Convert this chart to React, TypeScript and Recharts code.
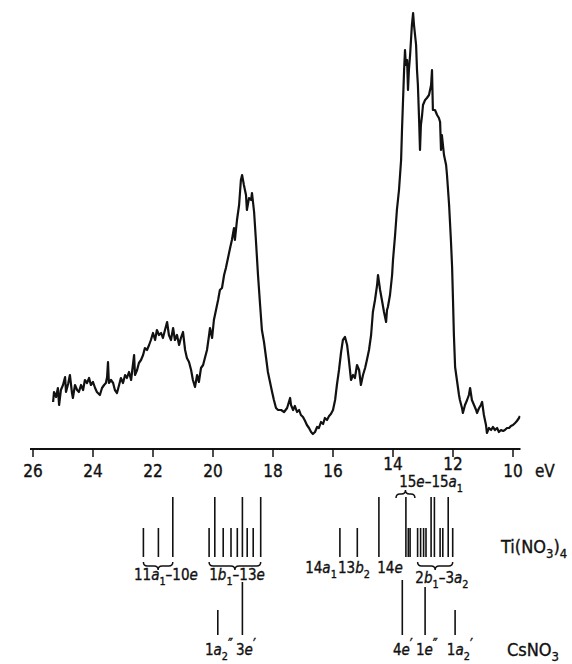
import { ComposedChart, Line, XAxis, YAxis, ReferenceLine, ReferenceDot } from 'recharts';

const FONT = '"DejaVu Sans Condensed", "DejaVu Sans", sans-serif';
const INK = '#111';

// photoelectron spectrum: [binding energy (eV), counts]
const spectrum: [number, number][] = [
  [25.33, 47], [25.3, 57], [25.23, 52], [25.17, 61], [25.13, 44], [25.07, 59], [25.0, 64], [24.93, 72],
  [24.9, 57], [24.83, 65], [24.77, 74], [24.7, 56], [24.67, 51], [24.6, 64], [24.53, 59], [24.47, 57],
  [24.4, 64], [24.33, 59], [24.27, 69], [24.2, 66], [24.13, 71], [24.07, 64], [24.0, 67], [23.93, 61],
  [23.87, 57], [23.77, 54], [23.7, 61], [23.63, 64], [23.57, 66], [23.53, 72], [23.5, 87], [23.47, 66],
  [23.4, 69], [23.33, 66], [23.27, 59], [23.2, 56], [23.13, 64], [23.07, 71], [23.0, 66], [22.93, 74],
  [22.87, 71], [22.8, 77], [22.73, 69], [22.67, 84], [22.63, 94], [22.6, 74], [22.53, 79], [22.47, 86],
  [22.4, 89], [22.33, 94], [22.27, 101], [22.2, 99], [22.13, 104], [22.07, 109], [22.0, 116], [21.93, 109],
  [21.87, 119], [21.8, 114], [21.73, 116], [21.67, 111], [21.6, 119], [21.53, 127], [21.47, 114], [21.4, 109],
  [21.33, 121], [21.27, 109], [21.2, 114], [21.13, 104], [21.07, 111], [21.0, 117], [20.93, 99], [20.87, 91],
  [20.8, 87], [20.73, 79], [20.67, 69], [20.6, 62], [20.53, 74], [20.47, 67], [20.4, 81], [20.33, 84],
  [20.27, 91], [20.2, 99], [20.13, 114], [20.1, 121], [20.03, 111], [19.97, 129], [19.9, 139], [19.83, 149],
  [19.77, 159], [19.7, 161], [19.63, 174], [19.57, 181], [19.5, 191], [19.43, 201], [19.37, 209], [19.3, 221],
  [19.27, 209], [19.2, 229], [19.13, 244], [19.07, 269], [19.03, 274], [18.97, 264], [18.9, 254], [18.87, 239],
  [18.8, 251], [18.73, 249], [18.7, 256], [18.63, 237], [18.57, 209], [18.5, 174], [18.43, 144], [18.37, 119],
  [18.3, 107], [18.23, 91], [18.17, 77], [18.1, 67], [18.03, 57], [17.97, 49], [17.9, 41], [17.83, 39],
  [17.73, 39], [17.63, 37], [17.53, 41], [17.43, 51], [17.4, 44], [17.33, 39], [17.27, 43], [17.2, 37],
  [17.13, 39], [17.07, 34], [17.0, 32], [16.93, 28], [16.87, 24], [16.8, 21], [16.73, 17], [16.67, 15],
  [16.6, 17], [16.53, 22], [16.47, 21], [16.4, 27], [16.33, 25], [16.27, 31], [16.2, 29], [16.13, 33],
  [16.07, 35], [16.0, 39], [15.93, 49], [15.87, 64], [15.8, 79], [15.73, 97], [15.67, 109], [15.6, 112],
  [15.53, 104], [15.47, 89], [15.4, 69], [15.33, 74], [15.27, 71], [15.2, 84], [15.13, 79], [15.07, 64],
  [15.0, 74], [14.93, 81], [14.87, 89], [14.8, 99], [14.73, 114], [14.67, 137], [14.6, 149], [14.53, 164],
  [14.5, 174], [14.43, 159], [14.37, 149], [14.3, 137], [14.23, 127], [14.2, 139], [14.17, 142], [14.1, 154],
  [14.03, 174], [14.0, 189], [13.93, 214], [13.87, 239], [13.8, 259], [13.73, 289], [13.7, 319], [13.63, 379],
  [13.6, 399], [13.57, 384], [13.53, 389], [13.5, 359], [13.47, 379], [13.43, 394], [13.4, 409], [13.37, 424],
  [13.33, 436], [13.3, 424], [13.23, 404], [13.2, 379], [13.17, 364], [13.13, 329], [13.1, 299], [13.07, 324],
  [13.03, 334], [13.0, 344], [12.93, 349], [12.87, 351], [12.8, 354], [12.73, 364], [12.7, 379], [12.67, 339],
  [12.6, 339], [12.53, 334], [12.47, 331], [12.43, 327], [12.4, 299], [12.37, 314], [12.3, 294], [12.23, 284],
  [12.2, 274], [12.13, 244], [12.07, 209], [12.03, 182], [12.0, 149], [11.97, 114], [11.93, 82], [11.87, 69],
  [11.8, 54], [11.77, 49], [11.7, 41], [11.67, 36], [11.6, 44], [11.53, 49], [11.47, 54], [11.43, 61],
  [11.37, 49], [11.3, 44], [11.23, 39], [11.2, 36], [11.13, 41], [11.07, 44], [11.03, 47], [10.97, 34],
  [10.9, 24], [10.87, 16], [10.8, 21], [10.73, 19], [10.67, 22], [10.6, 19], [10.53, 21], [10.47, 17],
  [10.4, 19], [10.33, 18], [10.27, 19], [10.2, 21], [10.13, 21], [10.07, 23], [10.0, 24], [9.93, 26],
  [9.87, 28], [9.8, 31], [9.77, 33],
];

const energyTicks = [26, 24, 22, 20, 18, 16, 14, 12, 10];
const raisedTicks = [14, 12];

// calculated Ti(NO3)4 levels (eV) and stick heights
const tiEnergy = [
  22.32, 21.82, 21.34, 20.13, 19.94, 19.66, 19.4, 19.19, 19.02, 18.86, 18.66, 18.41,
  15.77, 15.19, 14.47, 13.57, 13.49, 13.43, 13.18, 13.08, 12.98, 12.9, 12.73, 12.62, 12.43, 12.34, 12.16, 12.01,
];
const tiHeight = [
  29, 29, 60, 29, 60, 29, 29, 29, 60, 29, 29, 60,
  29, 29, 60, 60, 29, 29, 29, 29, 29, 29, 60, 60, 29, 29, 60, 29,
];

// CsNO3 levels (eV) and stick heights
const csEnergy = [19.84, 19.02, 13.69, 12.93, 11.93];
const csHeight = [25, 53, 55, 48, 25];

type Kind = 'n' | 'i' | 'b' | 'p';
type Seg = [string, Kind];

const tiBraces: { from: number; to: number; at: number; text: Seg[] }[] = [
  { from: 22.32, to: 21.34, at: 21.57, text: [['11', 'n'], ['a', 'i'], ['1', 'b'], ['–10', 'n'], ['e', 'i']] },
  { from: 20.13, to: 18.41, at: 19.2, text: [['1', 'n'], ['b', 'i'], ['1', 'b'], ['–13', 'n'], ['e', 'i']] },
  { from: 13.18, to: 12.01, at: 12.37, text: [['2', 'n'], ['b', 'i'], ['1', 'b'], ['–3', 'n'], ['a', 'i'], ['2', 'b']] },
];

const tiSingles: { at: number; text: Seg[] }[] = [
  { at: 16.4, text: [['14', 'n'], ['a', 'i'], ['1', 'b']] },
  { at: 15.3, text: [['13', 'n'], ['b', 'i'], ['2', 'b']] },
  { at: 14.1, text: [['14', 'n'], ['e', 'i']] },
];

const csLabels: { at: number; text: Seg[] }[] = [
  { at: 19.8, text: [['1', 'n'], ['a', 'i'], ['2', 'b'], ['″', 'p']] },
  { at: 18.9, text: [['3', 'n'], ['e', 'i'], ['′', 'p']] },
  { at: 13.67, text: [['4', 'n'], ['e', 'i'], ['′', 'p']] },
  { at: 12.87, text: [['1', 'n'], ['e', 'i'], ['″', 'p']] },
  { at: 11.77, text: [['1', 'n'], ['a', 'i'], ['2', 'b'], ['′', 'p']] },
];

const topLabel: Seg[] = [['15', 'n'], ['e', 'i'], ['–15', 'n'], ['a', 'i'], ['1', 'b']];
const tiName: Seg[] = [['Ti(NO', 'n'], ['3', 'b'], [')', 'n'], ['4', 'b']];
const csName: Seg[] = [['CsNO', 'n'], ['3', 'b']];

const DOMAIN: [number, number] = [9.75, 26.1];
const MARGIN = { top: 9, right: 51.5, bottom: 0, left: 30 };

function Rich({ x, y, segs, size, anchor = 'middle' }: { x: number; y: number; segs: Seg[]; size: number; anchor?: string }) {
  let shift = 0;
  return (
    <text x={x} y={y} textAnchor={anchor} fontSize={size} fontFamily={FONT} fill={INK} stroke={INK} strokeWidth={0.35}>
      {segs.map(([t, k], i) => {
        const target = k === 'b' ? size * 0.3 : k === 'p' ? -size * 0.35 : 0;
        const dy = target - shift;
        shift = target;
        return (
          <tspan key={i} dy={dy} fontStyle={k === 'i' ? 'italic' : undefined} fontSize={k === 'b' ? size * 0.72 : undefined}>
            {t}
          </tspan>
        );
      })}
    </text>
  );
}

const label = (segs: Seg[], size: number, anchor = 'middle') => (p: any) => (
  <Rich x={p.cx} y={p.cy} segs={segs} size={size} anchor={anchor} />
);

// curly brace along a horizontal segment; tip points down when `down`
const brace = (down: boolean) => (p: any) => {
  const a = Math.min(p.x1, p.x2);
  const b = Math.max(p.x1, p.x2);
  const m = (a + b) / 2;
  const y = p.y1;
  const s = down ? 1 : -1;
  const h = 4;
  const d = `M${a},${y - s * h} Q${a},${y} ${a + h},${y} L${m - h},${y} Q${m},${y} ${m},${y + s * h} Q${m},${y} ${m + h},${y} L${b - h},${y} Q${b},${y} ${b},${y - s * h}`;
  return <path d={d} fill="none" stroke={INK} strokeWidth={1.5} />;
};

const EnergyTick = ({ x, y, payload }: any) => (
  <text
    x={x}
    y={y}
    dy={raisedTicks.includes(payload.value) ? 11 : 18}
    textAnchor="middle"
    fontSize={17}
    fontFamily={FONT}
    fill={INK}
    stroke={INK}
    strokeWidth={0.35}
  >
    {payload.value}
  </text>
);

const stick = (base: number) => (e: number, h: number, i: number) => (
  <ReferenceLine
    key={`s-${base}-${i}`}
    segment={[{ x: e, y: base }, { x: e, y: base + h }]}
    stroke={INK}
    strokeWidth={1.6}
    ifOverflow="visible"
  />
);

export default function App() {
  const data = spectrum.map(([e, v]) => ({ e, v }));
  // lower panel: y value = distance above the bottom of the figure
  const TI_BASE = 107;
  const CS_BASE = 29;

  return (
    <div style={{ position: 'absolute', left: 0, top: 0, width: 572, height: 664, background: '#fff' }}>
      <ComposedChart width={572} height={489} data={data} margin={MARGIN}>
        <XAxis
          dataKey="e"
          type="number"
          domain={DOMAIN}
          reversed
          allowDataOverflow
          ticks={energyTicks}
          tickSize={8}
          height={40}
          tick={<EnergyTick />}
          axisLine={{ stroke: INK, strokeWidth: 1.8 }}
          tickLine={{ stroke: INK, strokeWidth: 1.5 }}
        />
        <YAxis hide domain={[0, 440]} allowDataOverflow />
        <Line
          dataKey="v"
          type="linear"
          stroke={INK}
          strokeWidth={2.2}
          strokeLinejoin="round"
          dot={false}
          isAnimationActive={false}
        />
        <ReferenceDot x={9.27} y={0} r={0} ifOverflow="visible" shape={(p: any) => (
          <text x={p.cx} y={p.cy + 28} fontSize={17} fontFamily={FONT} fill={INK} stroke={INK} strokeWidth={0.35}>eV</text>
        )} />
      </ComposedChart>

      <div style={{ position: 'absolute', left: 0, top: 470 }}>
        <ComposedChart width={572} height={194} margin={{ ...MARGIN, top: 0 }}>
          <XAxis type="number" dataKey="e" domain={DOMAIN} reversed allowDataOverflow hide />
          <YAxis type="number" domain={[0, 194]} allowDataOverflow hide />
          {tiEnergy.map((e, i) => stick(TI_BASE)(e, tiHeight[i], i))}
          {csEnergy.map((e, i) => stick(CS_BASE)(e, csHeight[i], i))}
          {tiBraces.map((g, i) => (
            <ReferenceLine
              key={`b-${i}`}
              segment={[{ x: g.from, y: 98 }, { x: g.to, y: 98 }]}
              ifOverflow="visible"
              shape={brace(true)}
            />
          ))}
          {tiBraces.map((g, i) => (
            <ReferenceDot key={`bl-${i}`} x={g.at} y={i === 2 ? 81 : 84} r={0} ifOverflow="visible" shape={label(g.text, 15)} />
          ))}
          {tiSingles.map((g, i) => (
            <ReferenceDot key={`sl-${i}`} x={g.at} y={91} r={0} ifOverflow="visible" shape={label(g.text, 15)} />
          ))}
          <ReferenceLine segment={[{ x: 13.9, y: 170 }, { x: 13.27, y: 170 }]} ifOverflow="visible" shape={brace(false)} />
          <ReferenceDot x={12.73} y={177} r={0} ifOverflow="visible" shape={label(topLabel, 15)} />
          {csLabels.map((g, i) => (
            <ReferenceDot key={`cl-${i}`} x={g.at} y={9} r={0} ifOverflow="visible" shape={label(g.text, 15)} />
          ))}
          <ReferenceDot x={10.4} y={111} r={0} ifOverflow="visible" shape={label(tiName, 18, 'start')} />
          <ReferenceDot x={10.2} y={8} r={0} ifOverflow="visible" shape={label(csName, 18, 'start')} />
        </ComposedChart>
      </div>
    </div>
  );
}
